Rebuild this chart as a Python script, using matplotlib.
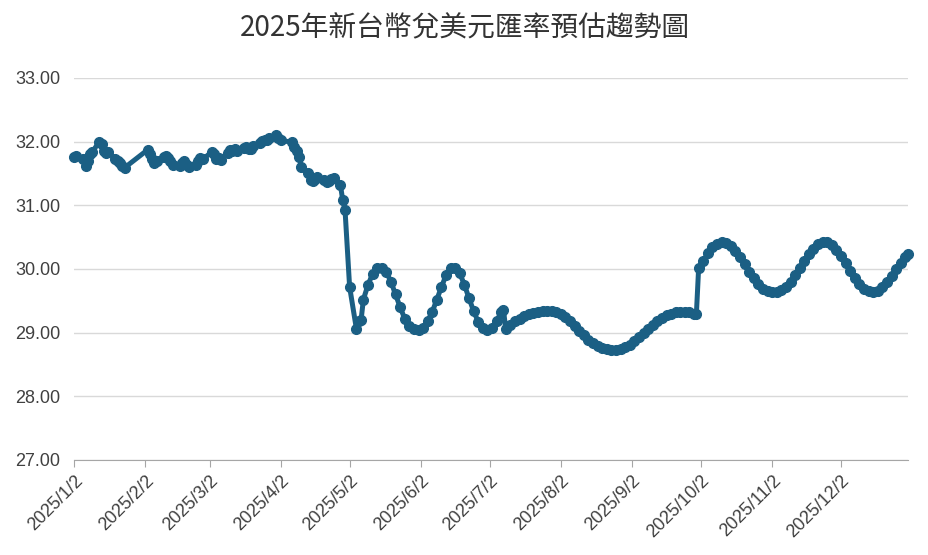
import matplotlib
matplotlib.use("Agg")
import matplotlib.pyplot as plt
import pandas as pd

plt.rcParams['font.family'] = ['Liberation Sans', 'Noto Sans CJK TC', 'DejaVu Sans']

title = "2025年新台幣兌美元匯率預估趨勢圖"

# --- data (MM-DD, TWD per USD) ---
dates = [
    "01-02", "01-03", "01-06", "01-07", "01-08", "01-09", "01-10", "01-13", "01-14", "01-15",
    "01-16", "01-17", "01-20", "01-21", "01-22", "01-23", "01-24",
    "02-03", "02-04", "02-05", "02-06", "02-07", "02-10", "02-11", "02-12", "02-13", "02-14",
    "02-17", "02-18", "02-19", "02-20", "02-21", "02-24", "02-25", "02-26", "02-27",
    "03-03", "03-04", "03-05", "03-06", "03-07", "03-10", "03-11", "03-12", "03-13", "03-14",
    "03-17", "03-18", "03-19", "03-20", "03-21", "03-24", "03-25", "03-26", "03-27", "03-28",
    "03-31", "04-01", "04-02", "04-07", "04-08", "04-09", "04-10", "04-11", "04-14", "04-15",
    "04-16", "04-17", "04-18", "04-21", "04-22", "04-23", "04-24", "04-25", "04-28", "04-29",
    "04-30", "05-02", "05-05", "05-06", "05-07",
    "05-08", "05-10", "05-12", "05-14", "05-16", "05-18", "05-20", "05-22", "05-24", "05-26",
    "05-28", "05-30", "06-01", "06-03", "06-05", "06-07", "06-09", "06-11", "06-13", "06-15",
    "06-17", "06-19", "06-21", "06-23", "06-25", "06-27", "06-29", "07-01", "07-03", "07-05",
    "07-07", "07-08", "07-09", "07-11", "07-13", "07-15", "07-17", "07-19", "07-21", "07-23",
    "07-25", "07-27", "07-29", "07-31", "08-02", "08-04", "08-06", "08-08", "08-10", "08-12",
    "08-14", "08-16", "08-18", "08-20", "08-22", "08-24", "08-26", "08-28", "08-30", "09-01",
    "09-03", "09-05", "09-07", "09-09", "09-11", "09-13", "09-15", "09-17", "09-19", "09-21",
    "09-23", "09-25", "09-27", "09-29", "09-30",
    "10-01", "10-03", "10-05", "10-07", "10-09", "10-11", "10-13", "10-15", "10-17", "10-19",
    "10-21", "10-23", "10-25", "10-27", "10-29", "10-31", "11-02", "11-04", "11-06", "11-08",
    "11-10", "11-12", "11-14", "11-16", "11-18", "11-20", "11-22", "11-24", "11-26", "11-28",
    "11-30", "12-02", "12-04", "12-06", "12-08", "12-10", "12-12", "12-14", "12-16", "12-18",
    "12-20", "12-22", "12-24", "12-26", "12-28", "12-30", "12-31",
]
rates = [
    31.76, 31.77, 31.72, 31.62, 31.70, 31.80, 31.84, 32.00, 31.97, 31.86,
    31.82, 31.84, 31.72, 31.70, 31.66, 31.62, 31.59,
    31.87, 31.80, 31.72, 31.66, 31.70, 31.76, 31.77, 31.74, 31.70, 31.64,
    31.62, 31.66, 31.70, 31.64, 31.60, 31.64, 31.70, 31.74, 31.72,
    31.84, 31.80, 31.72, 31.74, 31.71, 31.82, 31.87, 31.85, 31.88, 31.86,
    31.90, 31.92, 31.89, 31.88, 31.93, 31.98, 32.01, 32.03, 32.02, 32.05,
    32.10, 32.06, 32.02, 31.99, 31.92, 31.85, 31.76, 31.60, 31.50, 31.40,
    31.38, 31.42, 31.45, 31.40, 31.37, 31.38, 31.42, 31.43, 31.32, 31.08,
    30.93, 29.72, 29.05, 29.18, 29.20,
    29.52, 29.75, 29.92, 30.01, 30.02, 29.95, 29.80, 29.60, 29.40, 29.22,
    29.10, 29.05, 29.04, 29.08, 29.18, 29.33, 29.52, 29.72, 29.90, 30.01,
    30.02, 29.93, 29.75, 29.54, 29.34, 29.17, 29.07, 29.04, 29.08, 29.18,
    29.32, 29.36, 29.05, 29.12, 29.18, 29.22, 29.26, 29.29, 29.31, 29.33,
    29.34, 29.34, 29.34, 29.33, 29.30, 29.24, 29.18, 29.10, 29.03, 28.96,
    28.89, 28.83, 28.79, 28.76, 28.74, 28.73, 28.73, 28.74, 28.77, 28.81,
    28.87, 28.93, 29.00, 29.06, 29.12, 29.18, 29.23, 29.27, 29.30, 29.32,
    29.33, 29.33, 29.32, 29.30, 29.29,
    30.02, 30.13, 30.25, 30.34, 30.40, 30.43, 30.41, 30.36, 30.29, 30.19,
    30.08, 29.96, 29.86, 29.76, 29.69, 29.65, 29.64, 29.64, 29.67, 29.72,
    29.80, 29.90, 30.01, 30.12, 30.23, 30.32, 30.39, 30.43, 30.42, 30.37,
    30.30, 30.20, 30.09, 29.97, 29.86, 29.76, 29.69, 29.65, 29.64, 29.66,
    29.71, 29.79, 29.89, 30.00, 30.10, 30.19, 30.23,
]

tick_dates = ["2025-01-02", "2025-02-02", "2025-03-02", "2025-04-02", "2025-05-02", "2025-06-02",
              "2025-07-02", "2025-08-02", "2025-09-02", "2025-10-02", "2025-11-02", "2025-12-02"]
tick_labels = ["2025/1/2", "2025/2/2", "2025/3/2", "2025/4/2", "2025/5/2", "2025/6/2",
               "2025/7/2", "2025/8/2", "2025/9/2", "2025/10/2", "2025/11/2", "2025/12/2"]
y_ticks = [27, 28, 29, 30, 31, 32, 33]

x = pd.to_datetime(["2025-" + d for d in dates])

fig = plt.figure(figsize=(9.29, 5.55), dpi=100)
ax = fig.add_axes([0.0797, 0.1712, 0.8973, 0.6883])

color = "#1b5f84"
ax.plot(x, rates, color=color, lw=3.6, marker="o", ms=7.0, mfc=color, mec=color,
        clip_on=False, zorder=3, solid_joinstyle="round")

ax.set_xlim(pd.Timestamp("2025-01-02"), pd.Timestamp("2025-12-31"))
ax.set_ylim(27, 33)
ax.set_yticks(y_ticks)
ax.set_yticklabels([f"{v:.2f}" for v in y_ticks])
ax.set_xticks(pd.to_datetime(tick_dates))
ax.set_xticklabels(tick_labels, rotation=45, ha="right", rotation_mode="anchor")

ax.grid(axis="y", color="#d9d9d9", lw=1)
ax.set_axisbelow(True)
for s in ["left", "right", "top"]:
    ax.spines[s].set_visible(False)
ax.spines["bottom"].set_color("#a6a6a6")
ax.tick_params(axis="y", length=0, labelsize=13, labelcolor="#404040", pad=10)
ax.tick_params(axis="x", length=5, color="#a6a6a6", labelsize=13, labelcolor="#404040", pad=4)

fig.suptitle(title, x=0.5, y=0.975, fontsize=20, color="#333333",
             family=["Noto Sans CJK TC", "DejaVu Sans"])

fig.savefig("out.png", dpi=100)
